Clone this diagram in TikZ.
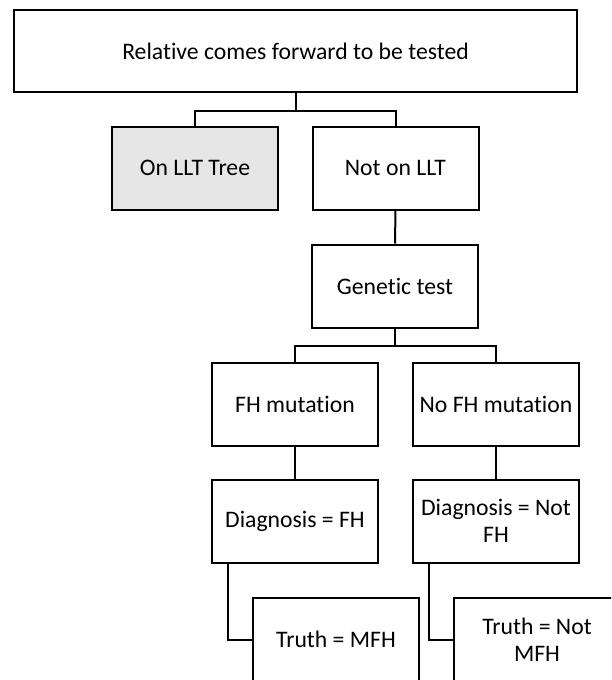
\documentclass[tikz,border=0pt]{standalone}
\usepackage{fontspec}
\setmainfont{Carlito}[Ligatures=NoCommon]
\definecolor{lltgray}{HTML}{E6E6E6}
\begin{document}
\begin{tikzpicture}[x=1pt,y=-1pt,
  box/.style={draw=black, line width=2pt, fill=white, minimum width=166pt, minimum height=83pt,
    inner sep=0pt, align=center, font=\fontsize{23.7}{27}\selectfont, text=black},
  link/.style={draw=black, line width=2pt}]
\clip (0,0) rectangle (611,680);
\node[box, minimum width=563pt, minimum height=82pt] (top) at (295.5,51) {Relative comes forward to be tested};
\node[box, fill=lltgray] (llt) at (195,168) {On LLT Tree};
\node[box] (notllt) at (395.5,168) {Not on LLT};
\node[box] (gen) at (395,286) {Genetic test};
\node[box] (fh) at (295,404) {FH mutation};
\node[box] (nofh) at (496,404) {No FH mutation};
\node[box] (dfh) at (295,521.25) {Diagnosis = FH};
\node[box] (dnot) at (496,521.25) {Diagnosis = Not\\FH};
\node[box] (tmfh) at (336,639.5) {Truth = MFH};
\node[box] (tnot) at (537,639.5) {Truth = Not\\MFH};
\draw[link] (top.south) -- ++(0,17.5) -| (llt.north);
\draw[link] (top.south) -- ++(0,17.5) -| (notllt.north);
\draw[link] (notllt.south) -- (gen.north);
\draw[link] (gen.south) -- ++(0,17.75) -| (fh.north);
\draw[link] (gen.south) -- ++(0,17.75) -| (nofh.north);
\draw[link] (fh.south) -- (dfh.north);
\draw[link] (nofh.south) -- (dnot.north);
\draw[link] ([xshift=17pt]dfh.south west) |- (tmfh.west);
\draw[link] ([xshift=17pt]dnot.south west) |- (tnot.west);
\end{tikzpicture}
\end{document}
